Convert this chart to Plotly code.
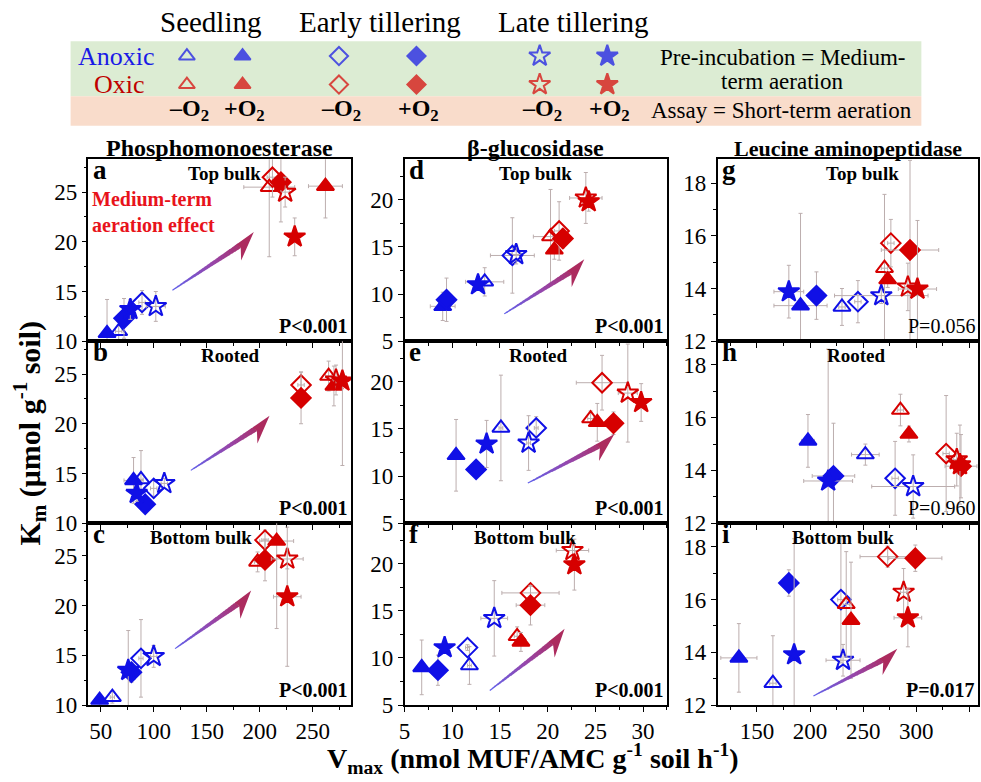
import math
import plotly.graph_objects as go

W, H = 981, 782
FONT = "'Liberation Serif', 'Times New Roman', Times, 'DejaVu Serif', serif"
BLUE = "#1010e6"
RED = "#d60000"
ERR = "#bcaeae"

# ---- series definition (order used by all data arrays) ----
SERIES = ["Anoxic Seedling -O2", "Anoxic Seedling +O2", "Anoxic Early tillering -O2",
          "Anoxic Early tillering +O2", "Anoxic Late tillering -O2", "Anoxic Late tillering +O2",
          "Oxic Seedling -O2", "Oxic Seedling +O2", "Oxic Early tillering -O2",
          "Oxic Early tillering +O2", "Oxic Late tillering -O2", "Oxic Late tillering +O2"]
SYMBOLS = ["triangle-up-open", "triangle-up", "diamond-open", "diamond", "star-open", "star"] * 2
COLORS = [BLUE] * 6 + [RED] * 6

# ---- Phosphomonoesterase ----
A_VMAX = [67, 56, 89, 72, 102, 78, 209, 262, 212, 220, 224, 233]
A_KM = [11.0, 10.8, 13.9, 12.3, 13.5, 13.2, 25.5, 25.6, 26.5, 26.0, 25.0, 20.5]
A_VMAX_SD = [3, 2, 3, 2, 9, 2, 24, 16, 5, 3, 4, 2]
A_KM_SD = [1.0, 3.4, 1.2, 2.0, 1.5, 1.0, 7.0, 3.2, 2.0, 4.0, 1.5, 1.9]

B_VMAX = [88, 81, 100, 92, 110, 84, 265, 270, 239, 239, 272, 278]
B_KM = [14.4, 14.3, 13.5, 11.9, 14.0, 13.0, 24.8, 23.8, 23.9, 22.6, 24.4, 24.3]
B_VMAX_SD = [2, 9, 3, 2, 3, 2, 3, 3, 3, 3, 3, 3]
B_KM_SD = [2.9, 2.3, 0.8, 0.5, 0.5, 0.8, 1.5, 2.0, 1.3, 2.6, 1.5, 8.5]

C_VMAX = [61, 49, 88, 79, 100, 76, 198, 216, 205, 205, 226, 226]
C_KM = [10.8, 10.5, 14.7, 13.3, 14.9, 13.5, 24.4, 26.5, 26.6, 24.6, 24.7, 20.9]
C_VMAX_SD = [2, 2, 2, 2, 3, 2, 3, 16, 3, 3, 15, 13]
C_KM_SD = [0.6, 0.5, 3.9, 1.0, 1.1, 4.0, 1.0, 8.8, 1.0, 2.1, 1.0, 7.0]

# ---- beta-glucosidase ----
D_VMAX = [13.4, 9.0, 16.3, 9.4, 16.7, 12.7, 20.3, 20.7, 21.2, 21.6, 24.0, 24.3]
D_KM = [11.3, 8.7, 14.1, 9.4, 14.2, 11.0, 16.1, 14.7, 16.7, 15.9, 20.2, 19.8]
D_VMAX_SD = [2.0, 1.3, 2.3, 0.5, 0.5, 0.5, 1.8, 0.5, 0.5, 0.5, 1.7, 0.5]
D_KM_SD = [1.5, 1.5, 4.0, 2.3, 1.0, 0.6, 5.0, 1.0, 3.1, 1.0, 2.7, 1.0]

E_VMAX = [15.1, 10.4, 18.8, 12.5, 18.0, 13.6, 24.5, 25.2, 25.7, 26.9, 28.4, 29.8]
E_KM = [15.1, 12.2, 15.1, 10.7, 13.5, 13.4, 16.1, 15.7, 19.9, 15.6, 18.8, 17.8]
E_VMAX_SD = [0.2, 0.3, 0.2, 0.3, 0.2, 0.2, 0.3, 0.3, 2.7, 0.2, 1.0, 0.3]
E_KM_SD = [5.6, 3.8, 1.2, 0.2, 2.9, 2.5, 0.8, 2.0, 2.9, 1.2, 5.2, 2.0]

F_VMAX = [11.8, 6.8, 11.6, 8.5, 14.4, 9.2, 16.8, 17.2, 18.2, 18.2, 22.6, 22.8]
F_KM = [9.2, 9.0, 11.1, 8.7, 14.2, 11.1, 12.3, 11.7, 16.9, 15.6, 21.4, 19.9]
F_VMAX_SD = [0.2, 0.2, 0.2, 0.2, 1.4, 0.2, 0.3, 0.5, 3.0, 1.5, 1.7, 0.3]
F_KM_SD = [2.0, 2.9, 0.3, 1.6, 4.0, 0.3, 1.0, 1.0, 0.7, 2.1, 0.8, 2.7]

# ---- Leucine aminopeptidase ----
G_VMAX = [230, 191, 245, 206, 267, 180, 270, 273, 276, 294, 292, 301]
G_KM = [13.3, 13.35, 13.5, 13.73, 13.73, 13.88, 14.77, 14.34, 15.72, 15.46, 14.06, 13.98]
G_VMAX_SD = [3, 25, 3, 3, 44, 14, 3, 3, 3, 27, 3, 18]
G_KM_SD = [0.7, 3.5, 0.8, 0.9, 0.3, 1.0, 2.8, 0.3, 0.9, 3.4, 0.9, 2.6]

H_VMAX = [252, 198, 280, 222, 297, 217, 285, 293, 328, 342, 338, 341]
H_KM = [14.6, 15.12, 13.7, 13.79, 13.39, 13.6, 16.29, 15.38, 14.64, 14.16, 14.41, 14.22]
H_VMAX_SD = [13, 6, 3, 20, 39, 23, 3, 3, 3, 15, 3, 3]
H_KM_SD = [0.4, 1.0, 1.4, 2.0, 1.2, 5.0, 0.6, 0.3, 2.2, 1.2, 1.0, 1.5]

I_VMAX = [165, 133, 229, 180, 231, 185, 234, 238.5, 273, 299, 288, 292]
I_KM = [12.83, 13.79, 16.0, 16.63, 13.7, 13.91, 15.82, 15.22, 17.63, 17.57, 16.28, 15.31]
I_VMAX_SD = [3, 17, 3, 3, 16, 3, 3, 3, 26, 25, 3, 13]
I_KM_SD = [1.8, 1.3, 2.4, 0.5, 0.6, 4.4, 2.0, 2.2, 0.4, 0.5, 0.9, 1.1]

PANELS = [
    ("a", "Top bulk", "P<0.001", True, A_VMAX, A_KM, A_VMAX_SD, A_KM_SD),
    ("d", "Top bulk", "P<0.001", True, D_VMAX, D_KM, D_VMAX_SD, D_KM_SD),
    ("g", "Top bulk", "P=0.056", False, G_VMAX, G_KM, G_VMAX_SD, G_KM_SD),
    ("b", "Rooted", "P<0.001", True, B_VMAX, B_KM, B_VMAX_SD, B_KM_SD),
    ("e", "Rooted", "P<0.001", True, E_VMAX, E_KM, E_VMAX_SD, E_KM_SD),
    ("h", "Rooted", "P=0.960", False, H_VMAX, H_KM, H_VMAX_SD, H_KM_SD),
    ("c", "Bottom bulk", "P<0.001", True, C_VMAX, C_KM, C_VMAX_SD, C_KM_SD),
    ("f", "Bottom bulk", "P<0.001", True, F_VMAX, F_KM, F_VMAX_SD, F_KM_SD),
    ("i", "Bottom bulk", "P=0.017", True, I_VMAX, I_KM, I_VMAX_SD, I_KM_SD),
]
SUBTITLE_X = {"a": 0.52, "b": 0.54, "c": 0.43, "d": 0.50, "e": 0.51, "f": 0.46,
              "g": 0.555, "h": 0.53, "i": 0.48}
ENZYMES = ["Phosphomonoesterase", "β-glucosidase", "Leucine aminopeptidase"]
ENZYME_SIZES = [24, 24, 22]

# arrows (tail, tip) in axis-domain fractions
ARROWS = {"a": ((0.32, 0.28), (0.63, 0.60)), "b": ((0.39, 0.29), (0.69, 0.59)),
          "c": ((0.33, 0.31), (0.62, 0.63)), "d": ((0.38, 0.15), (0.685, 0.45)),
          "e": ((0.47, 0.22), (0.80, 0.49)), "f": ((0.325, 0.08), (0.61, 0.42)),
          "i": ((0.368, 0.05), (0.69, 0.31))}

# layout geometry (pixels)
COL_PX = [(83, 347), (401, 665), (716, 978)]
ROW_PX = [(162, 347), (347, 532), (532, 717)]
X_RANGES = [[38.5, 286], [5, 32.5], [113, 358]]
Y_RANGES = [[10, 28.3], [5, 24.3], [12, 18.9]]
X_DTICK = [(50, 25), (5, 2.5), (50, 25)]
Y_DTICK = [(5, 2.5), (5, 2.5), (2, 1)]
TICK_SIZE = 23

fig = go.Figure()
layout = dict(width=W, height=H, margin=dict(l=0, r=0, t=0, b=0),
              paper_bgcolor="white", plot_bgcolor="rgba(0,0,0,0)",
              showlegend=False, font=dict(family=FONT, color="black"))
annotations = []
shapes = []


def px2paper(x, y):
    return x / W, 1 - y / H


def lerp_color(t):
    c0 = (95, 95, 235)
    c1 = (150, 70, 170)
    c2 = (175, 40, 85)
    if t < 0.5:
        a, b, s = c0, c1, t / 0.5
    else:
        a, b, s = c1, c2, (t - 0.5) / 0.5
    return "rgb(%d,%d,%d)" % tuple(round(a[i] + (b[i] - a[i]) * s) for i in range(3))


def add_arrow(k, tail, tip, wpx, hpx):
    xr = "x domain" if k == 1 else f"x{k} domain"
    yr = "y domain" if k == 1 else f"y{k} domain"
    tx, ty = tail[0] * wpx, tail[1] * hpx
    qx, qy = tip[0] * wpx, tip[1] * hpx
    L = math.hypot(qx - tx, qy - ty)
    dx, dy = (qx - tx) / L, (qy - ty) / L
    nx, ny = dy, -dx

    def pt(u, v):
        X = tx + u * L * dx + v * nx
        Y = ty + u * L * dy + v * ny
        return "%.5f,%.5f" % (X / wpx, Y / hpx)

    def vup(u):
        return -0.6 * (1 - u)

    def vlo(u):
        return 0.5 + (u / 0.8) * 5.0

    N = 24
    for i in range(N):
        u0 = 0.8 * i / N
        u1 = min(0.8 * (i + 1) / N + 0.006, 0.8)
        path = "M %s L %s L %s L %s Z" % (pt(u0, vup(u0)), pt(u1, vup(u1)),
                                          pt(u1, vlo(u1)), pt(u0, vlo(u0)))
        shapes.append(dict(type="path", path=path, xref=xr, yref=yr,
                           fillcolor=lerp_color((i + 0.5) / N * 0.85),
                           line=dict(width=0), layer="above"))
    head = "M %s L %s L %s L %s Z" % (pt(0.79, vup(0.79)), pt(1.0, 0), pt(0.73, 16), pt(0.8, 5.5))
    shapes.append(dict(type="path", path=head, xref=xr, yref=yr,
                       fillcolor=lerp_color(0.95), line=dict(width=0), layer="above"))


for idx, (lab, sub, pval, pbold, vx, vy, sx, sy) in enumerate(PANELS):
    r, c = divmod(idx, 3)
    k = idx + 1
    xa = "xaxis" if k == 1 else f"xaxis{k}"
    ya = "yaxis" if k == 1 else f"yaxis{k}"
    x0, x1 = COL_PX[c]
    y0, y1 = ROW_PX[r]
    layout[xa] = dict(domain=[x0 / W, x1 / W], range=X_RANGES[c], anchor=f"y{k}",
                      showgrid=False, zeroline=False, showline=True, linecolor="black",
                      linewidth=1.5, mirror=True, ticks="outside", ticklen=5,
                      tickcolor="black", tick0=0, dtick=X_DTICK[c][0],
                      minor=dict(dtick=X_DTICK[c][1], ticks="outside", ticklen=3, tickcolor="black"),
                      showticklabels=(r == 2),
                      tickfont=dict(family=FONT, size=TICK_SIZE, color="black"))
    layout[ya] = dict(domain=[1 - y1 / H, 1 - y0 / H], range=Y_RANGES[c], anchor=f"x{k}",
                      showgrid=False, zeroline=False, showline=True, linecolor="black",
                      linewidth=1.5, mirror=True, ticks="outside", ticklen=5,
                      tickcolor="black", tick0=0, dtick=Y_DTICK[c][0],
                      minor=dict(dtick=Y_DTICK[c][1], ticks="outside", ticklen=3, tickcolor="black"),
                      tickfont=dict(family=FONT, size=TICK_SIZE, color="black"))
    for s in range(12):
        fig.add_trace(go.Scatter(
            x=[vx[s]], y=[vy[s]], mode="markers", name=SERIES[s],
            xaxis=f"x{k}", yaxis=f"y{k}", hoverinfo="skip",
            error_x=dict(type="data", array=[sx[s]], color=ERR, thickness=1, width=2),
            error_y=dict(type="data", array=[sy[s]], color=ERR, thickness=1, width=2),
            marker=dict(symbol=SYMBOLS[s], size=15 if "star" not in SYMBOLS[s] else 16,
                        color=COLORS[s], line=dict(color=COLORS[s], width=2))))
    xr = "x domain" if k == 1 else f"x{k} domain"
    yr = "y domain" if k == 1 else f"y{k} domain"
    annotations.append(dict(text=f"<b>{lab}</b>", xref=xr, yref=yr, x=0.01, y=1.035,
                            xanchor="left", yanchor="top", showarrow=False,
                            font=dict(family=FONT, size=27, color="black")))
    annotations.append(dict(text=f"<b>{sub}</b>", xref=xr, yref=yr, x=SUBTITLE_X[lab], y=0.99,
                            xanchor="center", yanchor="top", showarrow=False,
                            font=dict(family=FONT, size=19, color="black")))
    ptxt = f"<b>{pval}</b>" if pbold else pval
    annotations.append(dict(text=ptxt, xref=xr, yref=yr, x=0.995, y=0.01,
                            xanchor="right", yanchor="bottom", showarrow=False,
                            font=dict(family=FONT, size=20, color="black")))
    if lab in ARROWS:
        add_arrow(k, ARROWS[lab][0], ARROWS[lab][1], x1 - x0, y1 - y0)

# panel a red note
annotations.append(dict(text="<b>Medium-term<br>aeration effect</b>", xref="paper", yref="paper",
                        x=85 / W, y=1 - 189 / H, xanchor="left", yanchor="top", align="left",
                        showarrow=False, font=dict(family=FONT, size=20, color="#e8131b")))

# enzyme titles
for c, name in enumerate(ENZYMES):
    x0, x1 = COL_PX[c]
    px, py = px2paper((x0 + x1) / 2, 151)
    annotations.append(dict(text=f"<b>{name}</b>", xref="paper", yref="paper", x=px, y=py,
                            xanchor="center", yanchor="middle", showarrow=False,
                            font=dict(family=FONT, size=ENZYME_SIZES[c], color="black")))

# axis titles
px, py = px2paper(24, 440)
annotations.append(dict(text="<b>K<sub>m</sub> (μmol g<sup>-1</sup> soil)</b>", xref="paper",
                        yref="paper", x=px, y=py, textangle=-90, showarrow=False,
                        xanchor="center", yanchor="middle",
                        font=dict(family=FONT, size=30, color="black")))
px, py = px2paper(530, 771)
annotations.append(dict(text="<b>V<sub>max</sub> (nmol MUF/AMC g<sup>-1</sup> soil h<sup>-1</sup>)</b>",
                        xref="paper", yref="paper", x=px, y=py, showarrow=False,
                        xanchor="center", yanchor="middle",
                        font=dict(family=FONT, size=28, color="black")))

# ---- header key ----
BAND_GREEN = "#dcecd3"
BAND_SALMON = "#f9dccb"
shapes.append(dict(type="rect", xref="paper", yref="paper", x0=65 / W, x1=921 / W,
                   y0=1 - 98 / H, y1=1 - 42 / H, fillcolor=BAND_GREEN, line=dict(width=0),
                   layer="below"))
shapes.append(dict(type="rect", xref="paper", yref="paper", x0=65 / W, x1=921 / W,
                   y0=1 - 128 / H, y1=1 - 98 / H, fillcolor=BAND_SALMON, line=dict(width=0),
                   layer="below"))

KEY_STAGES = ["Seedling", "Early tillering", "Late tillering"]
KEY_STAGE_X = [206, 376, 571]
KEY_X = [182, 238, 335, 413, 537, 605]
KEY_ROW_Y = [57, 86]
KEY_ASSAY = ["–O<sub>2</sub>", "+O<sub>2</sub>"] * 3


def header_text(text, x, y, size, color="black", anchor="center"):
    px_, py_ = px2paper(x, y)
    annotations.append(dict(text=text, xref="paper", yref="paper", x=px_, y=py_,
                            xanchor=anchor, yanchor="middle", showarrow=False,
                            font=dict(family=FONT, size=size, color=color)))


for name, x in zip(KEY_STAGES, KEY_STAGE_X):
    header_text(name, x, 22, 29)
header_text("Anoxic", 111, 57, 26, "#1a1ae6")
header_text("Oxic", 114, 86, 26, "#c00000")
for t, x in zip(KEY_ASSAY, KEY_X):
    header_text(f"<b>{t}</b>", x + 2, 112, 24)
header_text("Pre-incubation = Medium-", 781, 58, 23)
header_text("term aeration", 781, 83, 23)
header_text("Assay = Short-term aeration", 780, 112, 23)

layout["xaxis10"] = dict(domain=[0, 1], range=[0, W], visible=False, anchor="y10", fixedrange=True)
layout["yaxis10"] = dict(domain=[0, 1], range=[H, 0], visible=False, anchor="x10", fixedrange=True)
for row, color in zip(KEY_ROW_Y, [BLUE, RED]):
    fig.add_trace(go.Scatter(
        x=KEY_X, y=[row] * 6, mode="markers", xaxis="x10", yaxis="y10", hoverinfo="skip",
        marker=dict(symbol=SYMBOLS[:6], size=[14, 14, 14, 14, 16, 16], color=color,
                    line=dict(color=color, width=2))))

layout["annotations"] = annotations
layout["shapes"] = shapes
fig.update_layout(**layout)
fig.write_html("out.html")
